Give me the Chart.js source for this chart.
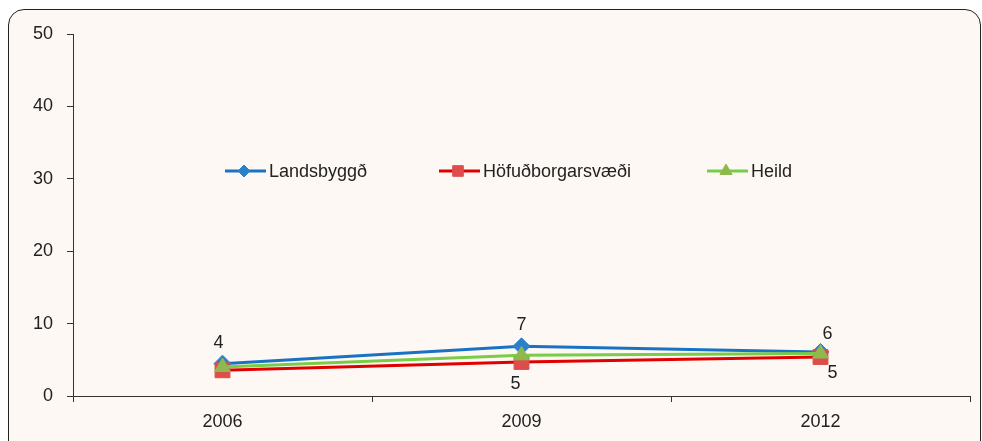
<!DOCTYPE html>
<html>
<head>
<meta charset="utf-8">
<script src="https://cdn.jsdelivr.net/npm/chart.js@4"></script>
<style>
  html, body { margin: 0; padding: 0; background: #fff; overflow: hidden; }
  #frame {
    position: absolute; left: 8px; top: 9px; width: 971px; height: 460px;
    background: #fdf8f3; border: 1.5px solid #222; border-radius: 16px;
  }
  #wrap { position: absolute; left: 0; top: 0; width: 982px; height: 441px; }
</style>
</head>
<body>
<div id="frame"></div>
<div id="wrap"><canvas id="chart" width="982" height="441"></canvas></div>
<script>
// ── Data ──
const years = ["2006", "2009", "2012"];
const landsbyggd = [4.47, 6.86, 6.08];
const hofudborg  = [3.55, 4.70, 5.39];
const heild      = [4.0, 5.62, 5.86];
const yTicks = [0, 10, 20, 30, 40, 50];

const FONT = "'Liberation Sans', Arial, sans-serif";
const ink = "#222";

// point labels: Landsbyggð above, Höfuðborgarsvæði below (no label at 2006)
const labelsAbove = landsbyggd.map(v => Math.round(v));
const labelsBelow = hofudborg.map((v, i) => i === 0 ? null : Math.round(v));

const series = [
  { label: "Landsbyggð",       data: landsbyggd, line: "#1a72c4", fill: "#2a80c9", style: "rectRot",  r: 8.5, lr: 6,   order: 3 },
  { label: "Höfuðborgarsvæði", data: hofudborg,  line: "#e00000", fill: "#de4d4b", style: "rect",     r: 10.5, lr: 7.5, order: 2 },
  { label: "Heild",            data: heild,      line: "#78cc46", fill: "#8fb84f", style: "triangle", r: 9,   lr: 7,   order: 1 }
];

// ── In-plot legend ──
const legendPlugin = {
  id: "inLegend",
  afterDraw(chart) {
    const ctx = chart.ctx;
    const xs = [225, 439, 707];
    const y = 171;
    ctx.save();
    ctx.font = "18px " + FONT;
    ctx.textBaseline = "middle";
    series.forEach((s, i) => {
      const x = xs[i];
      ctx.strokeStyle = s.line;
      ctx.lineWidth = 3;
      ctx.beginPath(); ctx.moveTo(x, y); ctx.lineTo(x + 41, y); ctx.stroke();
      ctx.fillStyle = s.fill;
      ctx.strokeStyle = s.fill;
      ctx.lineWidth = 1;
      Chart.helpers.drawPoint(ctx, { pointStyle: s.style, radius: s.lr, rotation: 0, borderWidth: 1 }, x + 19, y);
      ctx.fillStyle = ink;
      ctx.fillText(s.label, x + 44, y + 1);
    });
    ctx.restore();
  }
};

// ── Value labels ──
const valuePlugin = {
  id: "valueLabels",
  afterDatasetsDraw(chart) {
    const ctx = chart.ctx;
    ctx.save();
    ctx.font = "18px " + FONT;
    ctx.fillStyle = ink;
    ctx.textAlign = "center";
    ctx.textBaseline = "middle";
    const top = chart.getDatasetMeta(0).data;
    top.forEach((p, i) => {
      const dx = i === 2 ? 7 : (i === 0 ? -4 : 0);
      const dy = i === 2 ? 18 : 21;
      ctx.fillText(String(labelsAbove[i]), p.x + dx, p.y - dy);
    });
    const bot = chart.getDatasetMeta(1).data;
    bot.forEach((p, i) => {
      if (labelsBelow[i] == null) return;
      const dx = i === 2 ? 12 : -6;
      const dy = i === 2 ? 16 : 22;
      ctx.fillText(String(labelsBelow[i]), p.x + dx, p.y + dy);
    });
    ctx.restore();
  }
};

new Chart(document.getElementById("chart"), {
  type: "line",
  data: {
    labels: years,
    datasets: series.map(s => ({
      label: s.label,
      data: s.data,
      borderColor: s.line,
      borderWidth: 3,
      backgroundColor: s.fill,
      pointStyle: s.style,
      pointRadius: s.r,
      pointHoverRadius: s.r,
      pointBackgroundColor: s.fill,
      pointBorderColor: s.fill,
      pointBorderWidth: 1,
      tension: 0,
      order: s.order
    }))
  },
  options: {
    responsive: false,
    animation: false,
    devicePixelRatio: 1,
    layout: { padding: { left: 0, right: 12, top: 34, bottom: 0 } },
    plugins: { legend: { display: false }, tooltip: { enabled: false } },
    scales: {
      x: {
        offset: true,
        grid: { offset: true, drawOnChartArea: false, drawTicks: true, tickLength: 6, color: "#333" },
        border: { color: "#333", width: 1 },
        ticks: { color: ink, font: { family: FONT, size: 18 }, padding: 9, maxRotation: 0 },
        afterFit(scale) { scale.height = 45; }
      },
      y: {
        min: 0, max: 50,
        afterBuildTicks(scale) { scale.ticks = yTicks.map(v => ({ value: v })); },
        grid: { drawOnChartArea: false, drawTicks: true, tickLength: 6, color: "#333" },
        border: { color: "#333", width: 1 },
        ticks: { color: ink, font: { family: FONT, size: 18 }, padding: 14 },
        afterFit(scale) { scale.width = 73; }
      }
    }
  },
  plugins: [valuePlugin, legendPlugin]
});
</script>
</body>
</html>
